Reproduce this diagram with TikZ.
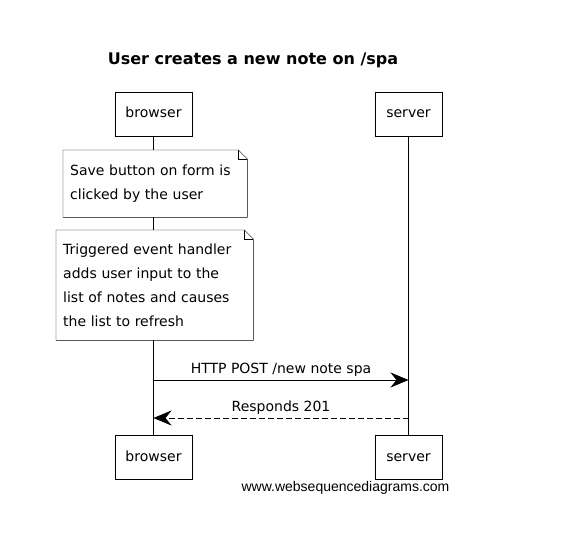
\documentclass[tikz,border=0pt]{standalone}
\usepackage{fontspec}
\setmainfont{DejaVu Sans}
\newfontfamily\urlfont{Liberation Sans}
\usetikzlibrary{arrows.meta, positioning}
\tikzstyle{actor} = [draw=black, fill=white, minimum height=44pt, text height=10pt, text depth=3pt, font=\fontsize{14}{16}\selectfont]
\tikzstyle{note} = [fill=white, align=left, anchor=north west, inner xsep=7pt, inner ysep=10pt, font=\fontsize{14}{24}\selectfont]
\tikzstyle{msg} = [semithick,-{Stealth[length=18pt,width=15pt,inset=6pt]},draw=black]
\tikzstyle{msglabel} = [font=\fontsize{14}{16}\selectfont, above, inner sep=3pt]

\begin{document}
\begin{tikzpicture}[x=1pt,y=-1pt]
        \useasboundingbox (0,0) rectangle (571,549);
        \node (title) at (253,60) {\fontsize{16}{18}\selectfont\bfseries User creates a new note on /spa};

        \node (B1) [actor, minimum width=77pt] at (153.5,114) {browser};
        \node (S1) [actor, minimum width=67pt] at (408.5,114) {server};
        \node (B2) [actor, minimum width=77pt] at (153.5,457.5) {browser};
        \node (S2) [actor, minimum width=67pt] at (408.5,457.5) {server};

        \draw (B1) -- (B2);
        \draw (S1) -- (S2);

        \node (N1) [note, text width=170pt, minimum height=67pt] at (63,150) {Save button on form is\\clicked by the user};
        \node (N2) [note, text width=183pt, minimum height=110pt] at (56,230) {Triggered event handler\\adds user input to the\\list of notes and causes\\the list to refresh};
        \foreach \n in {N1,N2} {
            \draw (\n.south west) -- (\n.north west) -- ([xshift=-9pt]\n.north east)
                -- ([yshift=-9pt]\n.north east) -- (\n.south east) -- cycle;
            \draw ([xshift=-9pt]\n.north east) -- ([xshift=-9pt,yshift=-9pt]\n.north east)
                -- ([yshift=-9pt]\n.north east);
        }

        \coordinate (p1) at (153.5,380);
        \coordinate (q1) at (408.5,380);
        \coordinate (p2) at (408.5,418);
        \coordinate (q2) at (153.5,418);
        \draw[msg] (p1) -- node[msglabel] {HTTP POST /new note spa} (q1);
        \draw[msg, dash pattern=on 6pt off 3pt] (p2) -- node[msglabel] {Responds 201} (q2);

        \node (url) at (345.5,488) {\urlfont\fontsize{14}{16}\selectfont www.websequencediagrams.com};
    \end{tikzpicture}
\end{document}
